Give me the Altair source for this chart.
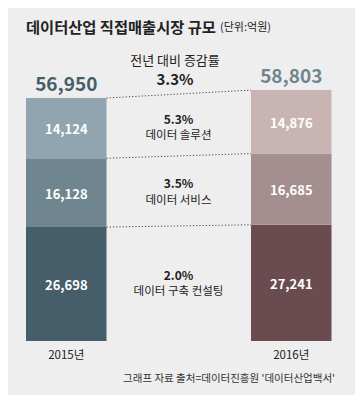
import altair as alt
import pandas as pd

# ---- data ----
years = ["2015년", "2016년"]
segments = ["데이터 구축 컨설팅", "데이터 서비스", "데이터 솔루션"]  # bottom -> top
values_2015 = [26698, 16128, 14124]
values_2016 = [27241, 16685, 14876]
totals = [56950, 58803]
growth = ["2.0%", "3.5%", "5.3%"]
total_growth = "3.3%"

title_text = "데이터산업 직접매출시장 규모"
unit_text = "(단위:억원)"
growth_title = "전년 대비 증감률"
source_text = "그래프 자료 출처=데이터진흥원 '데이터산업백서'"

# ---- styles ----
seg_colors = {
    "2015년": ["#465e6a", "#6f8690", "#91a5b0"],
    "2016년": ["#6a4b4f", "#a48e8f", "#c8b5b3"],
}
total_colors = ["#4f5f6b", "#5e4a50"]
FONT = "Noto Sans CJK KR"
W, H = 347, 387

rows = []
for yr, vals in zip(years, [values_2015, values_2016]):
    acc = 0
    for i, (seg, v) in enumerate(zip(segments, vals)):
        rows.append(dict(year=yr, segment=seg, key=f"{yr}|{seg}", value=v,
                         y0=acc, y1=acc + v, mid=acc + v / 2,
                         label=f"{v:,}", growth=growth[i]))
        acc += v
df = pd.DataFrame(rows)

color_domain = list(df["key"])
color_range = [seg_colors[yr][i] for yr in years for i in range(len(segments))]

tot = pd.DataFrame(dict(year=years, total=totals, label=[f"{t:,}" for t in totals]))

d15 = df[df.year == years[0]].reset_index(drop=True)
d16 = df[df.year == years[1]].reset_index(drop=True)
links = pd.DataFrame(dict(frm=years[0], to=years[1], ya=d15["y1"], yb=d16["y1"]))
mids = d15[["segment", "mid", "growth"]]

xscale = alt.Scale(domain=years, paddingInner=0.6422, paddingOuter=0.0922, align=0.434)
yscale = alt.Scale(domain=[-12655, 78041])

base = alt.Chart(df)

bars = base.mark_bar().encode(
    x=alt.X("year:N", scale=xscale, axis=None),
    y=alt.Y("y0:Q", scale=yscale, axis=None),
    y2="y1:Q",
    color=alt.Color("key:N", scale=alt.Scale(domain=color_domain, range=color_range), legend=None),
)

seg_labels = base.mark_text(font=FONT, fontSize=13, fontWeight="bold", color="white",
                            baseline="middle", dy=2).encode(
    x=alt.X("year:N", scale=xscale, axis=None),
    y=alt.Y("mid:Q", scale=yscale, axis=None),
    text="label:N",
)

rules = alt.Chart(links).mark_rule(color="#444444", strokeDash=[1.2, 2], strokeWidth=1).encode(
    x=alt.X("frm:N", scale=xscale, axis=None, bandPosition=1),
    x2=alt.X2("to:N", bandPosition=0),
    y=alt.Y("ya:Q", scale=yscale, axis=None),
    y2="yb:Q",
)

tot_labels = alt.Chart(tot).mark_text(font=FONT, fontSize=19, fontWeight="bold",
                                      baseline="alphabetic", dy=-7).encode(
    x=alt.X("year:N", scale=xscale, axis=None),
    y=alt.Y("total:Q", scale=yscale, axis=None),
    text="label:N",
    color=alt.Color("year:N", scale=alt.Scale(domain=years, range=total_colors), legend=None),
)

year_labels = alt.Chart(tot).mark_text(font=FONT, fontSize=11.5, color="#222222",
                                       baseline="middle").encode(
    x=alt.X("year:N", scale=xscale, axis=None),
    y=alt.value(348),
    text="year:N",
)

mid_growth = alt.Chart(mids).mark_text(font=FONT, fontSize=12, fontWeight="bold",
                                       color="#222222", baseline="middle", dy=-8.5).encode(
    x=alt.value(170.5),
    y=alt.Y("mid:Q", scale=yscale, axis=None),
    text="growth:N",
)
mid_names = alt.Chart(mids).mark_text(font=FONT, fontSize=11.5, color="#222222",
                                      baseline="middle", dy=8).encode(
    x=alt.value(170.5),
    y=alt.Y("mid:Q", scale=yscale, axis=None),
    text="segment:N",
)

header = alt.Chart(pd.DataFrame(dict(t=[growth_title]))).mark_text(
    font=FONT, fontSize=13, color="#222222", baseline="middle").encode(
    x=alt.value(167), y=alt.value(53), text="t:N")
header_pct = alt.Chart(pd.DataFrame(dict(t=[total_growth]))).mark_text(
    font=FONT, fontSize=15, fontWeight="bold", color="#222222", baseline="middle").encode(
    x=alt.value(167), y=alt.value(72), text="t:N")

title = alt.Chart(pd.DataFrame(dict(t=[title_text]))).mark_text(
    font=FONT, fontSize=15.3, fontWeight="bold", color="#222222", align="left",
    baseline="alphabetic").encode(x=alt.value(18), y=alt.value(25), text="t:N")
unit = alt.Chart(pd.DataFrame(dict(t=[unit_text]))).mark_text(
    font=FONT, fontSize=11, color="#222222", align="left",
    baseline="alphabetic").encode(x=alt.value(212), y=alt.value(23), text="t:N")
source = alt.Chart(pd.DataFrame(dict(t=[source_text]))).mark_text(
    font=FONT, fontSize=10.5, color="#333333", align="right",
    baseline="alphabetic").encode(x=alt.value(327), y=alt.value(374), text="t:N")

chart = alt.layer(
    bars, rules, seg_labels, tot_labels, year_labels, mid_growth, mid_names,
    header, header_pct, title, unit, source,
).properties(
    width=W, height=H,
    autosize=alt.AutoSizeParams(type="none"),
    padding=0,
    background="#eeeeee",
).configure_view(stroke=None)

chart.save("out.html", embed_options={"renderer": "svg", "actions": False})
